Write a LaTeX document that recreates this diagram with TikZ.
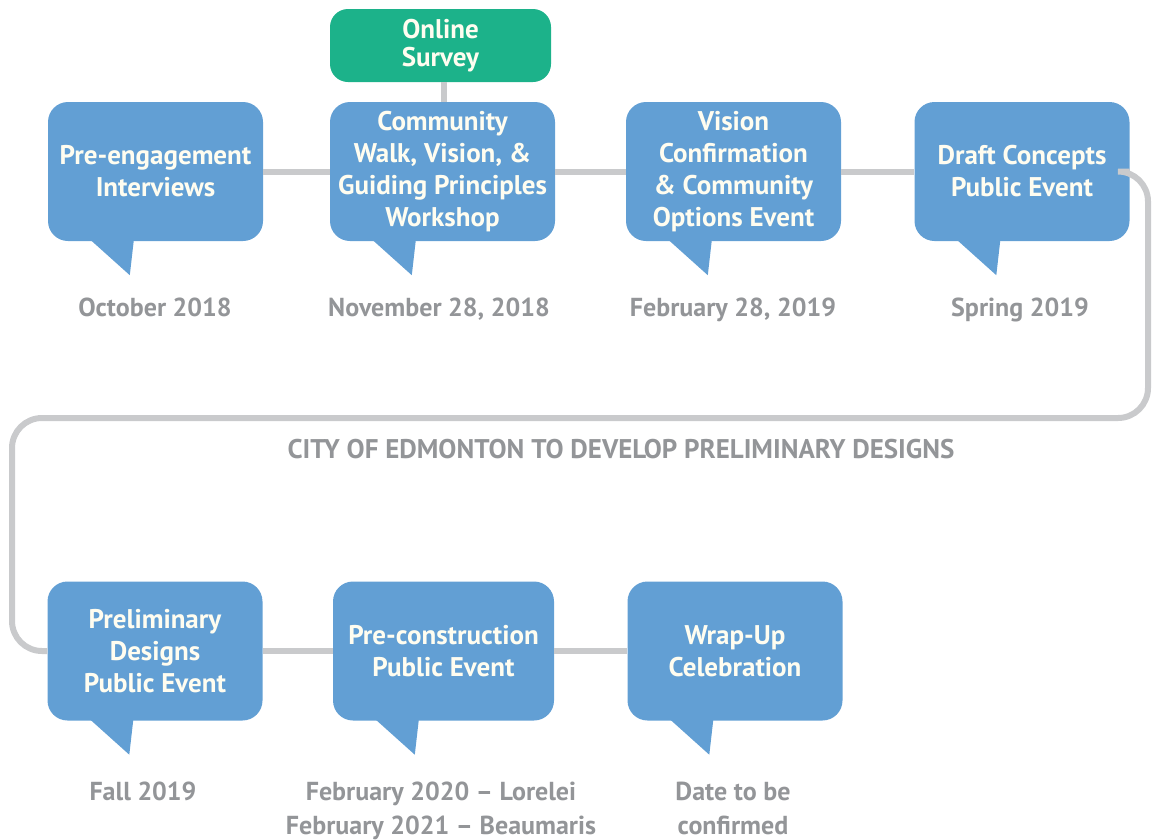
\documentclass[tikz,border=0pt]{standalone}
\usepackage{fontspec}
\setmainfont{PT Sans}
\definecolor{bblue}{HTML}{629FD4}
\definecolor{sgreen}{HTML}{1CB28A}
\definecolor{lgray}{HTML}{C9CACC}
\definecolor{dgray}{HTML}{939598}
\definecolor{cream}{HTML}{FFFDF0}
\tikzset{
  bubble/.style={rectangle, rounded corners=20pt, fill=bblue, minimum width=215pt, minimum height=139pt,
    inner sep=0pt, text=cream, align=center, font=\bfseries\fontsize{27}{32}\selectfont},
  survey/.style={rectangle, rounded corners=18pt, fill=sgreen, minimum width=221pt, minimum height=73pt,
    inner sep=0pt, text=cream, align=center, font=\bfseries\fontsize{27}{28}\selectfont},
  datelbl/.style={text=dgray, align=center, inner sep=0pt, anchor=base, font=\bfseries\fontsize{26}{34}\selectfont},
  conn/.style={draw=lgray, line width=6pt},
}
\newcommand{\bubtail}[1]{\fill[bblue] ([xshift=43pt,yshift=1pt]#1.south west) -- ([xshift=86pt,yshift=1pt]#1.south west) -- ([xshift=82pt,yshift=-34pt]#1.south west) -- cycle;}
\begin{document}
\begin{tikzpicture}[x=1pt,y=-1pt]
\useasboundingbox (0,0) rectangle (1154,839);
% top row
\node[bubble] (b1) at (155.5,171.5) {Pre-engagement\\Interviews};
\node[bubble, minimum width=225pt] (b2) at (442.5,171.5) {Community\\Walk, Vision, \&\\Guiding Principles\\Workshop};
\node[bubble] (b3) at (733.5,171.5) {Vision\\Confirmation\\\& Community\\Options Event};
\node[bubble] (b4) at (1022,171.5) {Draft Concepts\\Public Event};
\node[survey] (sv) at (440.5,45.5) {Online\\Survey};
% bottom row
\node[bubble] (b5) at (155,651) {Preliminary\\Designs\\Public Event};
\node[bubble, minimum width=221pt] (b6) at (443.5,651) {Pre-construction\\Public Event};
\node[bubble] (b7) at (735,651) {Wrap-Up\\Celebration};
\foreach \n in {b1,b2,b3,b4,b5,b6,b7} {\bubtail{\n}}
% connectors
\draw[conn] (sv.south -| 444,0) -- (b2.north -| 444,0);
\draw[conn] (b1.east) -- (b2.west);
\draw[conn] (b2.east) -- (b3.west);
\draw[conn] (b3.east) -- (b4.west);
\draw[conn, rounded corners=30pt] (b4.east) -- (1148,171.5) -- (1148,418) -- (12,418) -- (12,651) -- (b5.west);
\draw[conn] (b5.east) -- (b6.west);
\draw[conn] (b6.east) -- (b7.west);
% dates
\node[datelbl] (d1) at (155,316) {October 2018};
\node[datelbl] (d2) at (439,316) {November 28, 2018};
\node[datelbl] (d3) at (733,316) {February 28, 2019};
\node[datelbl] (d4) at (1020,316) {Spring 2019};
\node[datelbl] (d5) at (143,800) {Fall 2019};
\node[datelbl] (d6) at (441,834) {February 2020 -- Lorelei\\February 2021 -- Beaumaris};
\node[datelbl] (d7) at (733,834) {Date to be\\confirmed};
\node[datelbl, font=\bfseries\fontsize{27}{30}\selectfont] (city) at (621,458) {CITY OF EDMONTON TO DEVELOP PRELIMINARY DESIGNS};
\end{tikzpicture}
\end{document}
